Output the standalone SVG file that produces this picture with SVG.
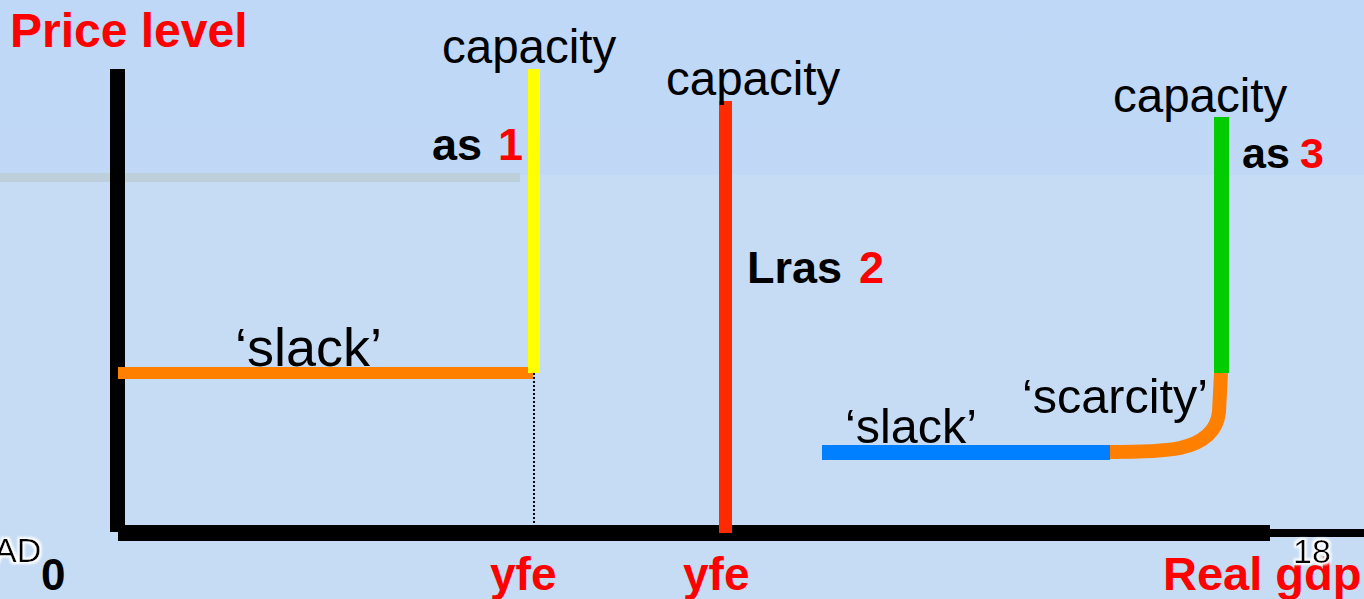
<svg xmlns="http://www.w3.org/2000/svg" width="1364" height="599" viewBox="0 0 1364 599">
<defs>
<linearGradient id="bg" x1="0" y1="0" x2="0" y2="1">
<stop offset="0" stop-color="#bfd8f7"/>
<stop offset="1" stop-color="#c3daf4"/>
</linearGradient>
<filter id="glow" x="-20%" y="-20%" width="140%" height="140%">
<feMorphology in="SourceAlpha" operator="dilate" radius="1.5" result="d"/>
<feGaussianBlur in="d" stdDeviation="1.2" result="b"/>
<feFlood flood-color="#ffffff"/>
<feComposite in2="b" operator="in" result="w"/>
<feMerge><feMergeNode in="w"/><feMergeNode in="SourceGraphic"/></feMerge>
</filter>
</defs>
<style>
text{font-family:"Liberation Sans",Arial,sans-serif;}
.lbl{font-size:47.5px;fill:#000;}
.b{font-weight:bold;}
.red{fill:#ff0000;}
.blk{fill:#000;}
.small{font-size:34px;fill:#000;}
</style>
<rect x="0" y="0" width="1364" height="599" fill="url(#bg)"/>
<rect x="0" y="175" width="1364" height="424" fill="#c6dcf4"/>
<rect x="0" y="173" width="520" height="9" fill="#bccfdb"/>

<g id="axes">
<rect x="110" y="69" width="15" height="463" fill="#000"/>
<rect x="118" y="525" width="1152" height="16" fill="#000"/>
<rect x="1270" y="529" width="94" height="8" fill="#000"/>
</g>

<g id="connectors">
<line x1="534" y1="373" x2="534" y2="524" stroke="#000" stroke-width="2" stroke-dasharray="2,2"/>
</g>

<g id="as1">
<rect x="118" y="367" width="415" height="12" fill="#ff7f00"/>
<rect x="528" y="69" width="12" height="304" fill="#ffff00"/>
<text class="lbl" x="442" y="63">capacity</text>
<text class="lbl" x="235" y="366" font-size="54" style="font-size:54px">‘slack’</text>
<text class="b" font-size="45" x="432" y="160"><tspan class="blk">as</tspan><tspan class="red" x="498">1</tspan></text>
</g>

<g id="lras2">
<rect x="719" y="101" width="13" height="432" fill="#ff2a00"/>
<text class="lbl" x="666" y="95">capacity</text>
<text class="b" font-size="45" x="747" y="283"><tspan class="blk">Lras</tspan><tspan class="red" x="859">2</tspan></text>
</g>

<g id="as3">
<rect x="822" y="445" width="288" height="15" fill="#0080ff"/>
<path d="M1221,373 L1219,412 Q1216,440 1180,448 Q1160,452 1110,452" fill="none" stroke="#ff7f00" stroke-width="14"/>
<rect x="1214" y="117" width="15" height="256" fill="#00cc00"/>
<text class="lbl" x="1113" y="112">capacity</text>
<text class="lbl" x="845" y="443" style="font-size:48.5px">‘slack’</text>
<text class="lbl" x="1022" y="413" style="font-size:48.5px">‘scarcity’</text>
<text class="b" font-size="43" x="1242" y="168"><tspan class="blk">as</tspan><tspan class="red" x="1300">3</tspan></text>
</g>

<g id="labels">
<text class="b red" font-size="48" x="10" y="47">Price level</text>
<text class="b red" font-size="46" x="490" y="590">yfe</text>
<text class="b red" font-size="46" x="683" y="590">yfe</text>
<text class="b red" font-size="47" x="1163" y="590">Real gdp</text>
<text class="b blk" font-size="44" x="41" y="590">0</text>
<text class="small" x="-6" y="562" filter="url(#glow)">AD</text>
<text class="small" x="1293" y="563" filter="url(#glow)">18</text>
</g>
</svg>
